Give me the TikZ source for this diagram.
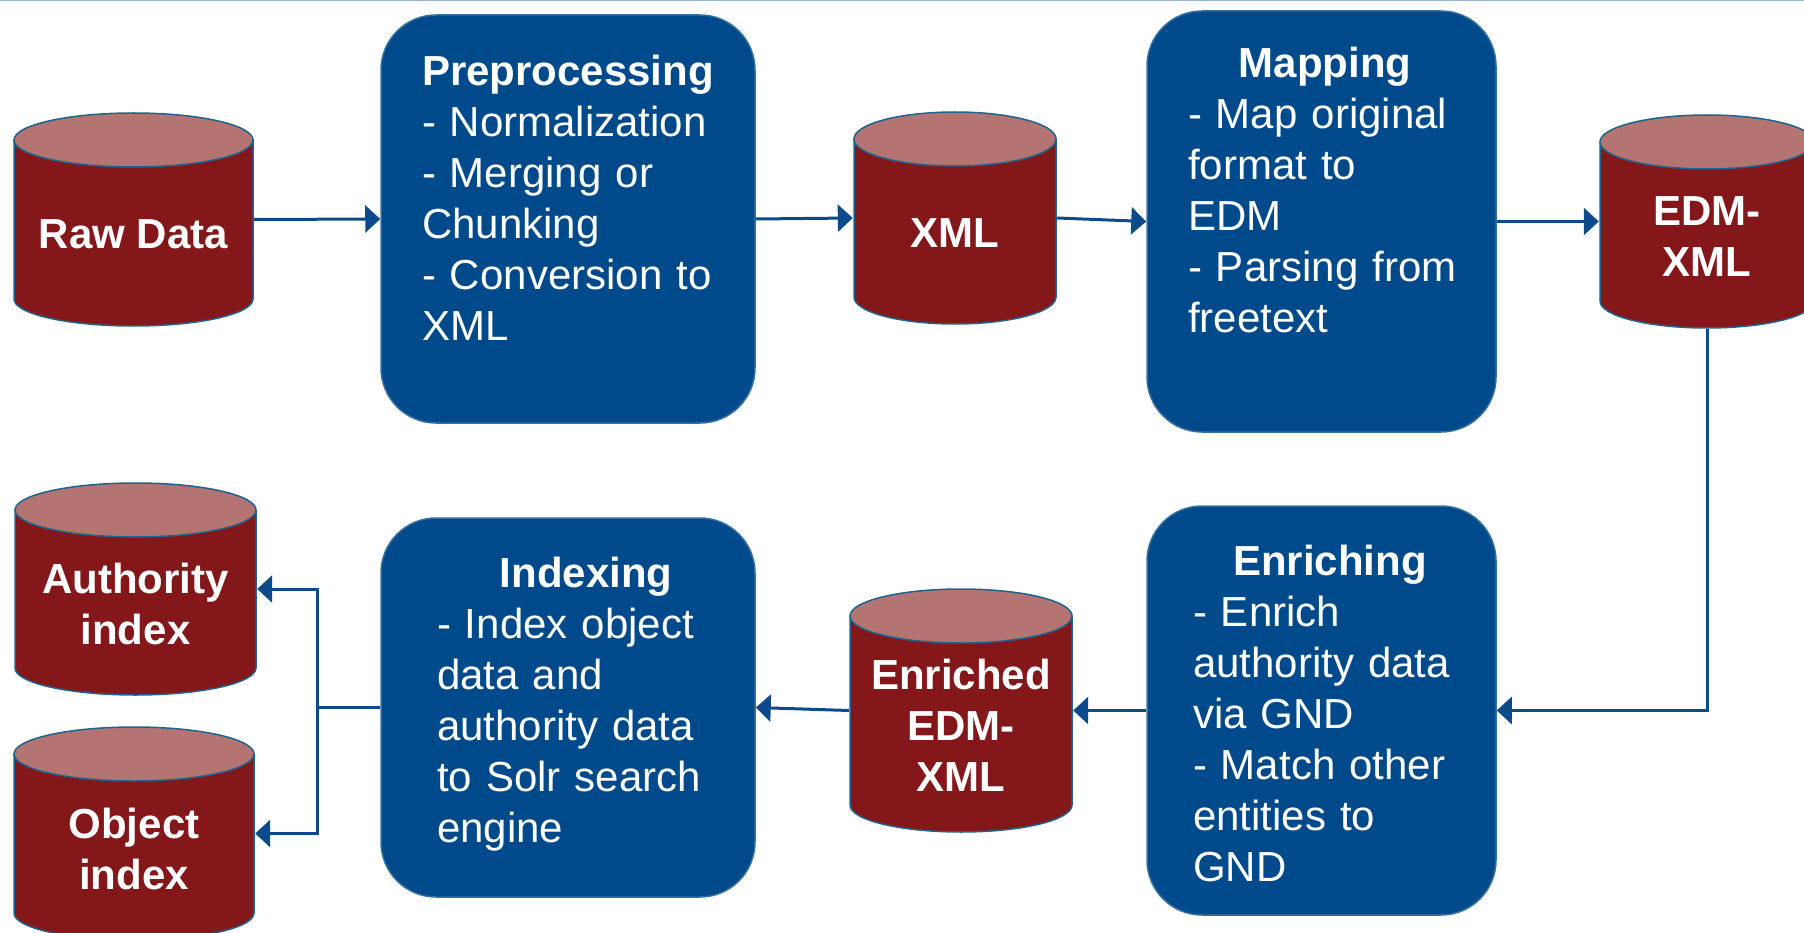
\documentclass[tikz,border=0pt]{standalone}
\usepackage{fontspec}
\setmainfont{Liberation Sans}
\usepackage{xcolor}
\usetikzlibrary{calc,arrows.meta,positioning}
\definecolor{boxblue}{RGB}{0,74,140}
\definecolor{boxedge}{RGB}{52,112,160}
\definecolor{dbbody}{RGB}{132,23,26}
\definecolor{dbtop}{RGB}{179,116,114}
\definecolor{dbedge}{RGB}{30,100,140}
\definecolor{flowblue}{RGB}{12,74,140}
\definecolor{rulecol}{RGB}{150,185,215}
\tikzset{
  stepbox/.style={rectangle, rounded corners=55pt, fill=boxblue, draw=boxedge, line width=1.5pt, text=white, align=left, inner ysep=0pt, font=\fontsize{42}{51}\selectfont},
  dbase/.style={rectangle, inner sep=0pt, path picture={
      \path[fill=dbbody, draw=dbedge, line width=1.5pt] let \p1=(path picture bounding box.south west), \p2=(path picture bounding box.north east) in
        (\x1+1pt,\y2-28pt) -- (\x1+1pt,\y1+28pt) arc[start angle=180, end angle=360, x radius={\x2/2-\x1/2-1pt}, y radius=27pt] -- (\x2-1pt,\y2-28pt) -- cycle;
      \path[fill=dbtop, draw=dbedge, line width=1.5pt] let \p1=(path picture bounding box.south west), \p2=(path picture bounding box.north east) in
        (\x1/2+\x2/2,\y2-28pt) ellipse[x radius={\x2/2-\x1/2-1pt}, y radius=27pt];
  }},
  dblabel/.style={text=white, font=\fontsize{42}{51}\selectfont\bfseries, align=center, yshift=-15pt},
  link/.style={draw=flowblue, line width=3pt},
  flow/.style={link, -{Triangle[length=15pt,width=27pt]}}
}
\begin{document}
\begin{tikzpicture}[x=1pt,y=-1pt]
\useasboundingbox (0,0) rectangle (1804,933);
\draw[rulecol, line width=1.5pt] (0,0.75) -- (1804,0.75);

\node[dbase, minimum width=241pt, minimum height=215pt, label={[dblabel]center:Raw Data}] (raw) at (133.5,219.5) {};
\node[dbase, minimum width=204pt, minimum height=214pt, label={[dblabel]center:XML}] (xml) at (955,218) {};
\node[dbase, minimum width=216pt, minimum height=215pt, label={[dblabel]center:{EDM-\\XML}}] (edm) at (1707,221.5) {};
\node[dbase, minimum width=224pt, minimum height=245pt, label={[dblabel]center:{Enriched\\EDM-\\XML}}] (enriched) at (961,710.5) {};
\node[dbase, minimum width=243pt, minimum height=214pt, label={[dblabel]center:{Authority\\index}}] (auth) at (135.5,589) {};
\node[dbase, minimum width=242pt, minimum height=215pt, label={[dblabel]center:{Object\\index}}] (obj) at (134,833.5) {};

\node[stepbox, text width=292pt, inner xsep=41pt, text height=71pt, text depth=337pt] (prep) at (568,219)
  {\makebox[\linewidth]{\bfseries Preprocessing}\\- Normalization\\- Merging or\\Chunking\\\mbox{- Conversion to}\\XML};
\node[stepbox, text width=267pt, inner xsep=41pt, text height=67pt, text depth=354pt] (map) at (1321.5,221.5)
  {\makebox[\linewidth]{\hspace{7pt}\bfseries Mapping}\\\mbox{- Map original}\\format to\\EDM\\\mbox{- Parsing from}\\freetext};
\node[stepbox, text width=257pt, inner xsep=46pt, text height=69pt, text depth=340pt] (enrich) at (1321.5,710.5)
  {\makebox[\linewidth]{\hspace{17pt}\bfseries Enriching}\\- Enrich\\\mbox{authority data}\\via GND\\\mbox{- Match other}\\entities to\\GND};
\node[stepbox, text width=262pt, inner xsep=56pt, text height=69pt, text depth=310pt] (index) at (568,707.5)
  {\makebox[\linewidth]{\hspace{36pt}\bfseries Indexing}\\\mbox{- Index object}\\data and\\\mbox{authority data}\\\mbox{to Solr search}\\engine};

\coordinate[left=63pt of index.west] (fork);

\draw[flow] (raw.east) -- (prep.west);
\draw[flow] (prep.east) -- (xml.west);
\draw[flow] (xml.east) -- (map.west);
\draw[flow] (map.east) -- (edm.west);
\draw[flow] (edm.south) |- (enrich.east);
\draw[flow] (enrich.west) -- (enriched.east);
\draw[flow] (enriched.west) -- (index.east);
\draw[link] (index.west) -- (fork);
\draw[flow] (fork) |- (auth.east);
\draw[flow] (fork) |- (obj.east);
\end{tikzpicture}
\end{document}
